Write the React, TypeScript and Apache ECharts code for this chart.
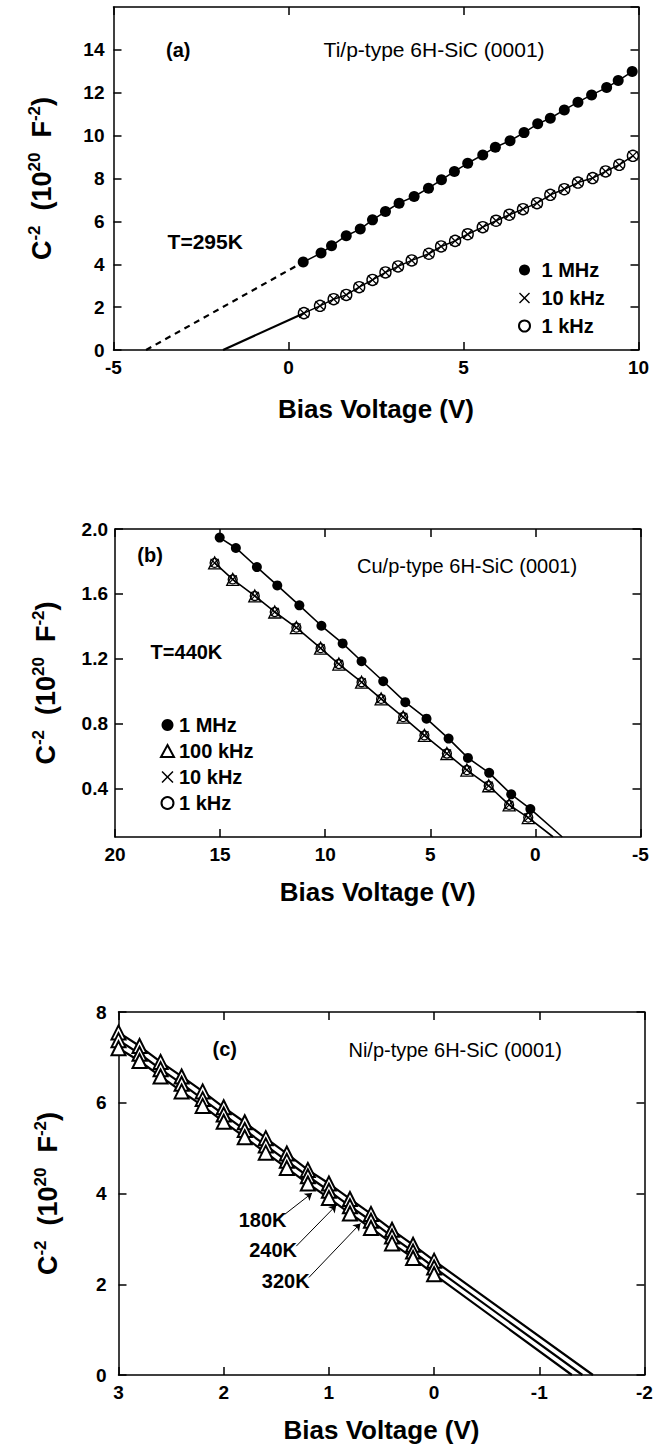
import React, { useEffect, useRef } from "react";
import * as echarts from "echarts";

const FONT = '"Liberation Sans", Arial, Helvetica, sans-serif';

// ---------- Panel (a): Ti/p-type 6H-SiC, T=295K ----------
const aBias1MHz = [0.42, 0.93, 1.23, 1.65, 2.05, 2.4, 2.77, 3.16, 3.59, 4.0, 4.37, 4.74, 5.12, 5.55, 5.91, 6.33, 6.73, 7.12, 7.48, 7.88, 8.27, 8.66, 9.09, 9.42, 9.82];
const aC2_1MHz = [4.1, 4.52, 4.86, 5.33, 5.64, 6.07, 6.46, 6.85, 7.16, 7.55, 7.94, 8.33, 8.71, 9.1, 9.46, 9.76, 10.14, 10.55, 10.81, 11.2, 11.56, 11.9, 12.24, 12.57, 12.99];
const aBias10kHz = [0.44, 0.9, 1.29, 1.65, 2.02, 2.4, 2.77, 3.13, 3.52, 4.01, 4.36, 4.76, 5.12, 5.55, 5.93, 6.31, 6.7, 7.1, 7.48, 7.88, 8.27, 8.69, 9.06, 9.45, 9.84];
const aC2_10kHz = [1.72, 2.06, 2.37, 2.57, 2.93, 3.27, 3.62, 3.9, 4.18, 4.49, 4.83, 5.09, 5.4, 5.73, 6.03, 6.31, 6.57, 6.85, 7.24, 7.5, 7.81, 8.02, 8.33, 8.64, 9.06];
const aBias1kHz = [0.44, 0.9, 1.29, 1.65, 2.02, 2.4, 2.77, 3.13, 3.52, 4.01, 4.36, 4.76, 5.12, 5.55, 5.93, 6.31, 6.7, 7.1, 7.48, 7.88, 8.27, 8.69, 9.06, 9.45, 9.84];
const aC2_1kHz = [1.72, 2.06, 2.37, 2.57, 2.93, 3.27, 3.62, 3.9, 4.18, 4.49, 4.83, 5.09, 5.4, 5.73, 6.03, 6.31, 6.57, 6.85, 7.24, 7.5, 7.81, 8.02, 8.33, 8.64, 9.06];
const aIntercept1MHz = -4.07; // x where extrapolated line meets C^-2 = 0
const aIntercept10kHz = -1.87;
const aXRange = [-5, 10];
const aYRange = [0, 16];

// ---------- Panel (b): Cu/p-type 6H-SiC, T=440K ----------
const bBias1MHz = [15.02, 14.25, 13.25, 12.28, 11.23, 10.18, 9.17, 8.27, 7.24, 6.19, 5.18, 4.13, 3.21, 2.2, 1.15, 0.24];
const bC2_1MHz = [1.947, 1.883, 1.765, 1.652, 1.529, 1.403, 1.294, 1.184, 1.061, 0.932, 0.83, 0.707, 0.588, 0.496, 0.363, 0.273];
const bBias100kHz = [15.26, 14.4, 13.35, 12.4, 11.37, 10.22, 9.35, 8.27, 7.34, 6.29, 5.28, 4.21, 3.26, 2.22, 1.25, 0.34];
const bC2_100kHz = [1.791, 1.689, 1.587, 1.488, 1.392, 1.265, 1.167, 1.055, 0.952, 0.84, 0.727, 0.615, 0.513, 0.416, 0.298, 0.22];
const bBias10kHz = [15.26, 14.4, 13.35, 12.4, 11.37, 10.22, 9.35, 8.27, 7.34, 6.29, 5.28, 4.21, 3.26, 2.22, 1.25, 0.34];
const bC2_10kHz = [1.791, 1.689, 1.587, 1.488, 1.392, 1.265, 1.167, 1.055, 0.952, 0.84, 0.727, 0.615, 0.513, 0.416, 0.298, 0.22];
const bBias1kHz = [15.26, 14.4, 13.35, 12.4, 11.37, 10.22, 9.35, 8.27, 7.34, 6.29, 5.28, 4.21, 3.26, 2.22, 1.25, 0.34];
const bC2_1kHz = [1.791, 1.689, 1.587, 1.488, 1.392, 1.265, 1.167, 1.055, 0.952, 0.84, 0.727, 0.615, 0.513, 0.416, 0.298, 0.22];
const bLineEnd1MHz = [-1.28, 0.1];
const bLineEndLow = [-0.85, 0.1];
const bXRange = [-5, 20];
const bYRange = [0.1, 2.0];
const bYTicks = [0.4, 0.8, 1.2, 1.6, 2.0];

// ---------- Panel (c): Ni/p-type 6H-SiC ----------
const cBias = [3.0, 2.8, 2.6, 2.4, 2.2, 2.0, 1.8, 1.6, 1.4, 1.2, 1.0, 0.8, 0.6, 0.4, 0.2, 0.0];
const cC2_180K = [7.55, 7.25, 6.9, 6.58, 6.25, 5.9, 5.57, 5.22, 4.88, 4.52, 4.22, 3.88, 3.55, 3.2, 2.87, 2.52];
const cC2_240K = [7.38, 7.08, 6.74, 6.42, 6.08, 5.74, 5.4, 5.06, 4.72, 4.38, 4.06, 3.72, 3.4, 3.05, 2.72, 2.37];
const cC2_320K = [7.2, 6.92, 6.58, 6.25, 5.93, 5.58, 5.24, 4.9, 4.56, 4.22, 3.9, 3.56, 3.24, 2.9, 2.58, 2.22];
const cIntercept180K = -1.51;
const cIntercept240K = -1.41;
const cIntercept320K = -1.31;
const cXRange = [-2, 3];
const cYRange = [0, 8];

const zip = (xs: number[], ys: number[]) => xs.map((x, i) => [x, ys[i]]);

const X_SYMBOL =
  "path://M0,0.9L0.9,0L5,4.1L9.1,0L10,0.9L5.9,5L10,9.1L9.1,10L5,5.9L0.9,10L0,9.1L4.1,5Z";

// annotation texts (data coordinates of their centres)
const annotations = [
  { p: 0, text: "(a)", x: -3.15, y: 14.0, bold: true, size: 20 },
  { p: 0, text: "Ti/p-type 6H-SiC (0001)", x: 4.16, y: 14.0, bold: false, size: 21 },
  { p: 0, text: "T=295K", x: -2.38, y: 5.06, bold: true, size: 21 },
  { p: 1, text: "(b)", x: 18.33, y: 1.84, bold: true, size: 20 },
  { p: 1, text: "Cu/p-type 6H-SiC (0001)", x: 3.25, y: 1.77, bold: false, size: 20 },
  { p: 1, text: "T=440K", x: 16.6, y: 1.24, bold: true, size: 20 },
  { p: 2, text: "(c)", x: 1.99, y: 7.19, bold: true, size: 20 },
  { p: 2, text: "Ni/p-type 6H-SiC (0001)", x: -0.2, y: 7.16, bold: false, size: 20 },
  { p: 2, text: "180K", x: 1.63, y: 3.41, bold: true, size: 20 },
  { p: 2, text: "240K", x: 1.53, y: 2.75, bold: true, size: 20 },
  { p: 2, text: "320K", x: 1.41, y: 2.08, bold: true, size: 20 },
];
const cArrowFrom = [[1.42, 3.54], [1.31, 2.84], [1.19, 2.15]];
const cArrowTo = [[1.16, 4.01], [0.93, 3.74], [0.7, 3.34]];

const axisLineStyle = { show: true, onZero: false, lineStyle: { color: "#000", width: 1.5 } };
const tickStyle = { show: true, inside: true, length: 8, lineStyle: { color: "#000", width: 1.5 } };
const labelStyle = { color: "#000", fontFamily: FONT, fontWeight: "bold", fontSize: 19 };

const yName = "{m|C}{s|-2}{m|  (10}{s|20}{m|  F}{s|-2}{m|)}";
const yNameStyle = {
  color: "#000",
  fontFamily: FONT,
  fontWeight: "bold",
  fontSize: 27,
  rich: {
    m: { fontFamily: FONT, fontWeight: "bold", fontSize: 27, color: "#000", lineHeight: 32 },
    s: { fontFamily: FONT, fontWeight: "bold", fontSize: 17, color: "#000", verticalAlign: "top", lineHeight: 32 },
  },
};

function mainX(gi: number, range: number[], interval: number, inverse: boolean, nameGap: number) {
  return {
    type: "value", gridIndex: gi, position: "bottom", min: range[0], max: range[1], interval, inverse,
    axisLine: axisLineStyle, axisTick: tickStyle, splitLine: { show: false },
    axisLabel: { ...labelStyle, margin: 8 },
    name: "Bias Voltage (V)", nameLocation: "middle", nameGap,
    nameTextStyle: { color: "#000", fontFamily: FONT, fontWeight: "bold", fontSize: 26 },
  };
}
function topX(gi: number, range: number[], interval: number, inverse: boolean) {
  return {
    type: "value", gridIndex: gi, position: "top", min: range[0], max: range[1], interval, inverse,
    axisLine: axisLineStyle, axisTick: tickStyle, splitLine: { show: false }, axisLabel: { show: false },
  };
}
function mainY(gi: number, range: number[], interval: number, nameGap: number, margin: number, extra: any = {}) {
  return {
    type: "value", gridIndex: gi, position: "left", min: range[0], max: range[1], interval,
    axisLine: axisLineStyle, axisTick: { ...tickStyle, ...(extra.tick || {}) }, splitLine: { show: false },
    axisLabel: { ...labelStyle, margin, ...(extra.label || {}) },
    name: yName, nameLocation: "middle", nameRotate: 90, nameGap, nameTextStyle: yNameStyle,
  };
}
function rightY(gi: number, range: number[], interval: number, extra: any = {}) {
  return {
    type: "value", gridIndex: gi, position: "right", min: range[0], max: range[1], interval,
    axisLine: axisLineStyle, axisTick: { ...tickStyle, ...(extra.tick || {}) }, splitLine: { show: false },
    axisLabel: { show: false },
  };
}

const lineS = (k: number, data: number[][], width: number, type: any = "solid") => ({
  type: "line", xAxisIndex: k, yAxisIndex: k, data, showSymbol: false, symbol: "none",
  lineStyle: { color: "#000", width, type }, z: 2, silent: true,
});

const legendText = { color: "#000", fontFamily: FONT, fontWeight: "bold", fontSize: 20 };
const hollow = { color: "rgba(255,255,255,0)", borderColor: "#000", borderWidth: 1.4, opacity: 1 };

export default function App() {
  const ref = useRef<HTMLDivElement>(null);
  useEffect(() => {
    document.body.style.margin = "0";
    const chart = echarts.init(ref.current!, null, { renderer: "svg" });

    const option: any = {
      animation: false,
      backgroundColor: "#fff",
      grid: [
        { left: 113.5, top: 7, width: 525, height: 343 },
        { left: 115, top: 529, width: 525.5, height: 308 },
        { left: 118.5, top: 1012, width: 526, height: 363 },
      ],
      xAxis: [
        mainX(0, aXRange, 5, false, 46),
        mainX(1, bXRange, 5, true, 42),
        mainX(2, cXRange, 1, true, 42),
        topX(0, aXRange, 5, false),
        topX(1, bXRange, 5, true),
        topX(2, cXRange, 1, true),
      ],
      yAxis: [
        mainY(0, aYRange, 2, 56, 9, { label: { showMaxLabel: false } }),
        mainY(1, bYRange, 0.4, 53, 7, {
          label: { customValues: bYTicks, formatter: (v: number) => v.toFixed(1) },
          tick: { customValues: bYTicks },
        }),
        mainY(2, cYRange, 2, 55, 12),
        rightY(0, aYRange, 2),
        rightY(1, bYRange, 0.4, { tick: { customValues: bYTicks } }),
        rightY(2, cYRange, 2),
      ],
      legend: [
        {
          orient: "vertical", left: 513, top: 255, itemWidth: 24, itemHeight: 11, itemGap: 8,
          textStyle: legendText, data: ["1 MHz", "10 kHz", "1 kHz"], selectedMode: false,
        },
        {
          orient: "vertical", left: 155, top: 710, itemWidth: 13, itemHeight: 12, itemGap: 6,
          textStyle: legendText, data: ["1 MHz", "100 kHz", "10 kHz", "1 kHz"], selectedMode: false,
        },
      ],
      series: [
        // (a)
        lineS(0, [[aIntercept1MHz, 0], [aBias1MHz[0], aC2_1MHz[0]]], 2.2, [6, 5]),
        lineS(0, zip(aBias1MHz, aC2_1MHz), 1.5),
        lineS(0, [[aIntercept10kHz, 0], [aBias10kHz[0], aC2_10kHz[0]]], 2.2),
        lineS(0, zip(aBias10kHz, aC2_10kHz), 1.5),
        {
          type: "scatter", name: "1 MHz", xAxisIndex: 0, yAxisIndex: 0, data: zip(aBias1MHz, aC2_1MHz),
          symbol: "circle", symbolSize: 11, itemStyle: { color: "#000", opacity: 1 }, z: 3,
        },
        {
          type: "scatter", name: "1 kHz", xAxisIndex: 0, yAxisIndex: 0, data: zip(aBias1kHz, aC2_1kHz),
          symbol: "circle", symbolSize: 11, itemStyle: hollow, z: 3,
        },
        {
          type: "scatter", name: "10 kHz", xAxisIndex: 0, yAxisIndex: 0, data: zip(aBias10kHz, aC2_10kHz),
          symbol: X_SYMBOL, symbolSize: 10, itemStyle: { color: "#000", opacity: 1 }, z: 4,
        },
        // (b)
        lineS(1, [...zip(bBias1MHz, bC2_1MHz), bLineEnd1MHz], 1.6),
        lineS(1, [...zip(bBias100kHz, bC2_100kHz), bLineEndLow], 1.6),
        {
          type: "scatter", name: "1 MHz", xAxisIndex: 1, yAxisIndex: 1, data: zip(bBias1MHz, bC2_1MHz),
          symbol: "circle", symbolSize: 10, itemStyle: { color: "#000", opacity: 1 }, z: 3,
        },
        {
          type: "scatter", name: "100 kHz", xAxisIndex: 1, yAxisIndex: 1, data: zip(bBias100kHz, bC2_100kHz),
          symbol: "triangle", symbolSize: 12, itemStyle: { ...hollow, borderWidth: 1.3 }, z: 3,
        },
        {
          type: "scatter", name: "1 kHz", xAxisIndex: 1, yAxisIndex: 1, data: zip(bBias1kHz, bC2_1kHz),
          symbol: "circle", symbolSize: 9, itemStyle: { ...hollow, borderWidth: 1.3 }, z: 3,
        },
        {
          type: "scatter", name: "10 kHz", xAxisIndex: 1, yAxisIndex: 1, data: zip(bBias10kHz, bC2_10kHz),
          symbol: X_SYMBOL, symbolSize: 9, itemStyle: { color: "#000", opacity: 1 }, z: 4,
        },
        // (c)
        lineS(2, [...zip(cBias, cC2_180K), [cIntercept180K, 0]], 2.2),
        lineS(2, [...zip(cBias, cC2_240K), [cIntercept240K, 0]], 2.2),
        {
          ...lineS(2, [...zip(cBias, cC2_320K), [cIntercept320K, 0]], 2.2),
          markLine: {
            silent: true, symbol: ["none", "arrow"], symbolSize: 7,
            lineStyle: { color: "#000", width: 1, type: "solid", opacity: 1 }, label: { show: false },
            data: cArrowFrom.map((f, i) => [{ coord: f }, { coord: cArrowTo[i] }]),
          },
        },
        ...[
          ["180K", cC2_180K],
          ["240K", cC2_240K],
          ["320K", cC2_320K],
        ].map(([name, ys]) => ({
          type: "scatter", name, xAxisIndex: 2, yAxisIndex: 2, data: zip(cBias, ys as number[]),
          symbol: "emptyTriangle", symbolSize: 14,
          itemStyle: { color: "#000", borderColor: "#000", borderWidth: 1.5, opacity: 1 }, z: 3,
        })),
      ],
    };
    chart.setOption(option);

    const graphic = annotations.map((a) => {
      const pt = chart.convertToPixel({ xAxisIndex: a.p, yAxisIndex: a.p } as any, [a.x, a.y]) as number[];
      return {
        type: "text", x: pt[0], y: pt[1], z: 10, silent: true,
        style: {
          text: a.text, fill: "#000", fontFamily: FONT, fontSize: a.size,
          fontWeight: a.bold ? "bold" : "normal",
          align: "center", verticalAlign: "middle", textAlign: "center", textVerticalAlign: "middle",
        },
      };
    });
    chart.setOption({ graphic });

    return () => chart.dispose();
  }, []);
  return (
    <div
      ref={ref}
      style={{ position: "absolute", left: 0, top: 0, width: 665, height: 1448, background: "#fff" }}
    />
  );
}
